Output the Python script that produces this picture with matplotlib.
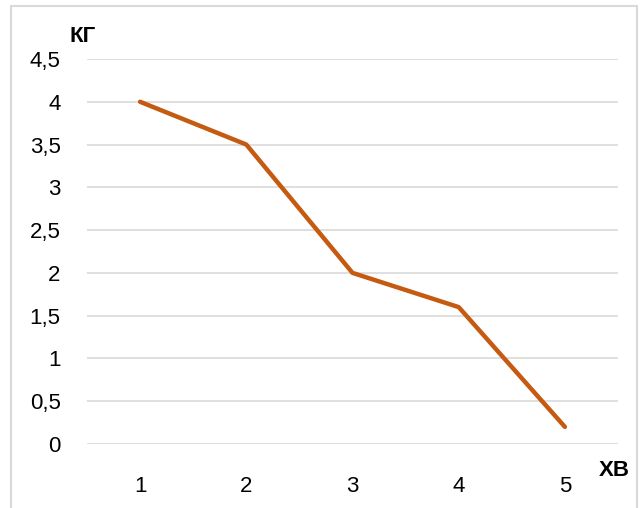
import matplotlib.pyplot as plt
from matplotlib.patches import Rectangle

# data
minutes = [1, 2, 3, 4, 5]
kg = [4.0, 3.5, 2.0, 1.6, 0.2]
y_ticks = [0, 0.5, 1, 1.5, 2, 2.5, 3, 3.5, 4, 4.5]

plt.rcParams['font.family'] = ['Liberation Sans', 'DejaVu Sans']

W, H = 644, 508
fig = plt.figure(figsize=(W / 100, H / 100), dpi=100)
ax = fig.add_axes([87 / W, (H - 444) / H, (618 - 87) / W, (444 - 59) / H])

ax.plot(minutes, kg, color='#C55A11', linewidth=3.2, solid_capstyle='round',
        solid_joinstyle='round', zorder=3)

ax.set_xlim(0.5, 5.5)
ax.set_ylim(0, 4.5)
ax.set_yticks(y_ticks)
ax.set_yticklabels([f'{v:g}'.replace('.', ',') for v in y_ticks], fontsize=16)
ax.set_xticks(minutes)
ax.set_xticklabels([str(m) for m in minutes], fontsize=16)
ax.grid(axis='y', color='#D9D9D9', linewidth=1.2)
ax.set_axisbelow(True)
for s in ax.spines.values():
    s.set_visible(False)
ax.tick_params(length=0, pad=19, axis='y', labelcolor='#000000')
ax.tick_params(length=0, pad=23, axis='x')

# axis labels
fig.text(83 / W, 1 - 37 / H, 'КГ', fontsize=16, fontweight='bold',
         ha='center', va='center')
fig.text(614 / W, 1 - 470 / H, 'ХВ', fontsize=16, fontweight='bold',
         ha='center', va='center')

# chart frame (bottom edge falls outside the image)
fig.patches.append(Rectangle((11 / W, -0.05), (637 - 11) / W, 1.05 - 6 / H,
                             transform=fig.transFigure, fill=False,
                             edgecolor='#D9D9D9', linewidth=1.5))

fig.savefig('out.png', dpi=100)
